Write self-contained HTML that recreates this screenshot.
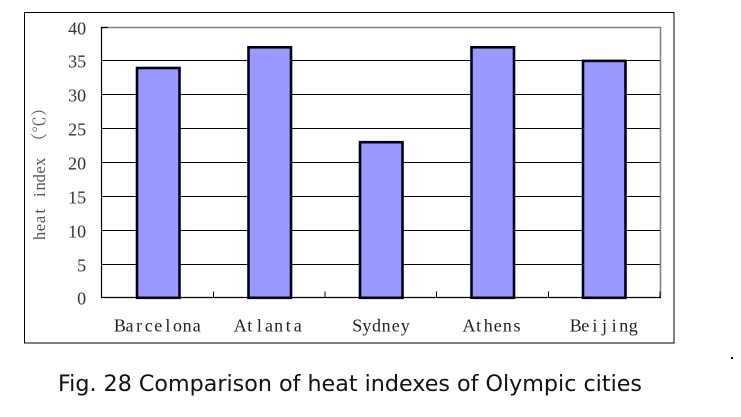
<!DOCTYPE html>
<html>
<head>
<meta charset="utf-8">
<style>
  html, body { margin: 0; padding: 0; background: #fff; }
  svg { display: block; }
</style>
</head>
<body>
<svg width="741" height="417" viewBox="0 0 741 417" xmlns="http://www.w3.org/2000/svg">
  <rect x="0" y="0" width="741" height="417" fill="#fff"/>
  <!-- outer chart frame -->
  <rect x="24.5" y="12.5" width="649.5" height="330.5" fill="#fff" stroke="#000" stroke-width="1"/>

  <!-- gridlines -->
  <g stroke="#000" stroke-width="1">
    <line x1="101.5" y1="264.5" x2="660" y2="264.5"/>
    <line x1="101.5" y1="230.5" x2="660" y2="230.5"/>
    <line x1="101.5" y1="196.5" x2="660" y2="196.5"/>
    <line x1="101.5" y1="162.5" x2="660" y2="162.5"/>
    <line x1="101.5" y1="128.5" x2="660" y2="128.5"/>
    <line x1="101.5" y1="94.5" x2="660" y2="94.5"/>
    <line x1="101.5" y1="60.5" x2="660" y2="60.5"/>
  </g>
  <!-- top & right gray plot border -->
  <line x1="101.5" y1="27.5" x2="661" y2="27.5" stroke="#808080" stroke-width="1.6"/>
  <line x1="660.5" y1="27" x2="660.5" y2="298" stroke="#808080" stroke-width="1.6"/>
  <line x1="101.5" y1="27.5" x2="108" y2="27.5" stroke="#000" stroke-width="1.2"/>

  <!-- bars -->
  <g fill="#9999FF" stroke="#000018" stroke-width="2.6">
    <rect x="137" y="68.0" width="42.5" height="229.8"/>
    <rect x="248.5" y="47.3" width="42.5" height="250.5"/>
    <rect x="360" y="142.2" width="42.5" height="155.6"/>
    <rect x="471.5" y="47.3" width="42.5" height="250.5"/>
    <rect x="583" y="60.9" width="42.5" height="236.9"/>
  </g>

  <!-- axes -->
  <line x1="101.5" y1="27" x2="101.5" y2="298" stroke="#000" stroke-width="1.2"/>
  <line x1="101" y1="297.5" x2="661" y2="297.5" stroke="#000" stroke-width="1.2"/>
  <!-- bottom ticks -->
  <g stroke="#000" stroke-width="1">
    <line x1="213.5" y1="291.5" x2="213.5" y2="298"/>
    <line x1="325" y1="291.5" x2="325" y2="298"/>
    <line x1="436.5" y1="291.5" x2="436.5" y2="298"/>
    <line x1="548.5" y1="291.5" x2="548.5" y2="298"/>
    <line x1="660" y1="291.5" x2="660" y2="298"/>
  </g>

  <!-- y tick labels -->
  <g font-family="'Liberation Serif', serif" font-size="18" fill="#333" text-anchor="middle">
    <text x="72.6 81.6" y="34.5">40</text>
    <text x="72.6 81.6" y="67.5">35</text>
    <text x="72.6 81.6" y="101.5">30</text>
    <text x="72.6 81.6" y="135.5">25</text>
    <text x="72.6 81.6" y="169.5">20</text>
    <text x="72.6 81.6" y="203.5">15</text>
    <text x="72.6 81.6" y="237.5">10</text>
    <text x="81.6" y="271.5">5</text>
    <text x="81.6" y="304.5">0</text>
  </g>

  <!-- category labels (monospaced simulation) -->
  <g font-family="'Liberation Serif', serif" font-size="18" fill="#222" text-anchor="middle">
    <text x="119.9 129.5 139.1 148.7 158.3 167.9 177.5 187.1 196.7" y="331.5">Barcelona</text>
    <text x="240.2 249.8 259.4 269 278.6 288.2 297.8" y="331.5">Atlanta</text>
    <text x="357.3 366.9 376.5 386.1 395.7 405.3" y="331.5">Sydney</text>
    <text x="469 478.6 488.2 497.8 507.4 517" y="331.5">Athens</text>
    <text x="575.7 585.3 594.9 604.5 614.1 623.7 633.3" y="331.5">Beijing</text>
  </g>

  <!-- y axis title -->
  <g transform="translate(45,170) rotate(-90)" font-family="'Liberation Serif', 'Noto Serif CJK SC', serif" font-size="16.5" fill="#555" text-anchor="middle">
    <text x="-65.9 -57.6 -49.4 -41.2" y="0">heat</text>
    <text x="-24.7 -16.4 -8.2 0.0 8.3" y="0">index</text>
    <text x="28.9 45.4 61.9" y="0" font-family="'Noto Serif CJK SC', 'Noto Sans CJK SC', serif">（℃）</text>
  </g>

  <!-- caption -->
  <text x="58" y="391" font-family="'DejaVu Sans', Verdana, sans-serif" font-size="22" fill="#111" textLength="584" lengthAdjust="spacingAndGlyphs">Fig. 28 Comparison of heat indexes of Olympic cities</text>

  <!-- stray dot -->
  <rect x="731" y="357" width="2" height="2" fill="#000"/>
</svg>
</body>
</html>
